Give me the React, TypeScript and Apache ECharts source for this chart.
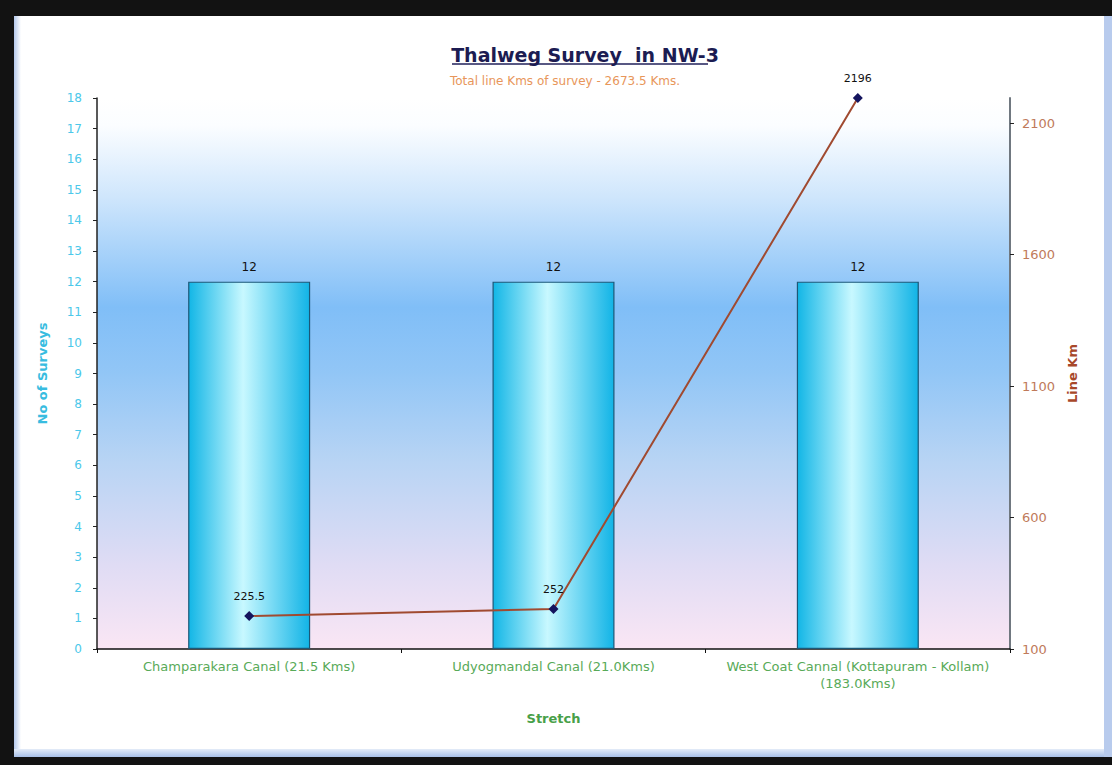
import React, { useEffect, useRef } from "react";
import * as echarts from "echarts";

const categories = [
  "Champarakara Canal (21.5 Kms)",
  "Udyogmandal Canal (21.0Kms)",
  "West Coat Cannal (Kottapuram - Kollam)\n(183.0Kms)",
];
const surveyCounts = [12, 12, 12];
const lineKms = [225.5, 252, 2196];
const titleText = "Thalweg Survey  in NW-3";
const subtitleText = "Total line Kms of survey - 2673.5 Kms.";

export default function App() {
  const ref = useRef<HTMLDivElement>(null);
  useEffect(() => {
    if (!ref.current) return;
    const chart = echarts.init(ref.current, undefined, { renderer: "svg" });
    const font = "DejaVu Sans, Liberation Sans, Arial, sans-serif";
    chart.setOption({
      animation: false,
      backgroundColor: "#121212",
      textStyle: { fontFamily: font },
      graphic: [
        { type: "rect", z: -10, shape: { x: 14, y: 16, width: 1098, height: 741 }, style: { fill: "#ffffff" } },
        {
          type: "rect", z: -9, shape: { x: 14, y: 16, width: 7, height: 741 },
          style: { fill: new echarts.graphic.LinearGradient(0, 0, 1, 0, [{ offset: 0, color: "#b4c8ec" }, { offset: 1, color: "#ffffff" }]) },
        },
        {
          type: "rect", z: -9, shape: { x: 14, y: 749, width: 1098, height: 8 },
          style: { fill: new echarts.graphic.LinearGradient(0, 0, 0, 1, [{ offset: 0, color: "#e4ecf8" }, { offset: 1, color: "#a8c0e8" }]) },
        },
        { type: "rect", z: -9, shape: { x: 1104, y: 16, width: 8, height: 741 }, style: { fill: "#b8cbed" } },
        { type: "line", z: 5, shape: { x1: 452, y1: 64, x2: 708, y2: 64 }, style: { stroke: "#20205a", lineWidth: 1.5 } },
      ],
      title: [
        {
          text: titleText,
          left: 580,
          top: 40,
          textAlign: "center",
          textStyle: { fontFamily: font, fontSize: 19, fontWeight: "bold", color: "#1c1c52" },
        },
        {
          text: subtitleText,
          left: 560,
          top: 70,
          textAlign: "center",
          textStyle: { fontFamily: font, fontSize: 12, fontWeight: "normal", color: "#e8965a" },
        },
      ],
      grid: {
        left: 97,
        top: 98,
        right: 102,
        bottom: 116,
        show: true,
        borderWidth: 0,
        backgroundColor: new echarts.graphic.LinearGradient(0, 0, 0, 1, [
          { offset: 0, color: "#ffffff" },
          { offset: 0.05, color: "#fbfdff" },
          { offset: 0.18, color: "#cfe6fc" },
          { offset: 0.38, color: "#80bef7" },
          { offset: 0.5, color: "#92c6f6" },
          { offset: 0.66, color: "#b8d4f4" },
          { offset: 0.85, color: "#e0dcf4" },
          { offset: 1, color: "#fae6f4" },
        ]),
      },
      xAxis: {
        type: "category",
        data: categories,
        name: "Stretch",
        nameLocation: "middle",
        nameGap: 63,
        nameTextStyle: { fontFamily: font, fontSize: 13, fontWeight: "bold", color: "#48a048" },
        axisLine: { lineStyle: { color: "#111", width: 1.5 } },
        axisTick: { show: true, alignWithLabel: false, length: 4, lineStyle: { color: "#111" } },
        axisLabel: { fontFamily: font, fontSize: 13, color: "#58aa58", margin: 9, lineHeight: 17, interval: 0 },
        splitLine: { show: false },
      },
      yAxis: [
        {
          type: "value",
          min: 0,
          max: 18,
          interval: 1,
          position: "left",
          name: "No of Surveys",
          nameLocation: "middle",
          nameGap: 48,
          nameTextStyle: { fontFamily: font, fontSize: 13, fontWeight: "bold", color: "#38bce0" },
          axisLine: { show: true, lineStyle: { color: "#222", width: 1.5 } },
          axisTick: { show: true, inside: false, length: 4, lineStyle: { color: "#222" } },
          axisLabel: { fontFamily: font, fontSize: 12, color: "#4cc8ea", margin: 15 },
          splitLine: { show: false },
        },
        {
          type: "value",
          min: 100,
          max: 2196,
          interval: 500,
          position: "right",
          name: "Line Km",
          nameLocation: "middle",
          nameGap: 52,
          nameRotate: 90,
          nameTextStyle: { fontFamily: font, fontSize: 13, fontWeight: "bold", color: "#a8482a" },
          axisLine: { show: true, lineStyle: { color: "#707880", width: 2 } },
          axisTick: { show: true, length: 4, lineStyle: { color: "#222" } },
          axisLabel: {
            fontFamily: font,
            fontSize: 13,
            color: "#c07a5a",
            margin: 12,
            showMaxLabel: false,
            formatter: (v: number) => String(v),
          },
          splitLine: { show: false },
        },
      ],
      series: [
        {
          type: "bar",
          data: surveyCounts,
          yAxisIndex: 0,
          barWidth: 122,
          itemStyle: {
            color: new echarts.graphic.LinearGradient(0, 0, 1, 0, [
              { offset: 0, color: "#12b6e6" },
              { offset: 0.45, color: "#c8f8ff" },
              { offset: 1, color: "#12b4e6" },
            ]),
            borderColor: "#1c5878",
            borderWidth: 1.2,
          },
          label: { show: true, position: "top", distance: 9, fontFamily: font, fontSize: 12, color: "#111" },
        },
        {
          type: "line",
          data: lineKms,
          yAxisIndex: 1,
          symbol: "diamond",
          symbolSize: 10,
          lineStyle: { color: "#a04a30", width: 2 },
          itemStyle: { color: "#14145e" },
          label: { show: true, position: "top", distance: 9, fontFamily: font, fontSize: 11, color: "#111" },
          z: 5,
        },
      ],
    });
    return () => chart.dispose();
  }, []);
  return (
    <div
      ref={ref}
      style={{ position: "fixed", left: 0, top: 0, width: 1112, height: 765 }}
    />
  );
}
